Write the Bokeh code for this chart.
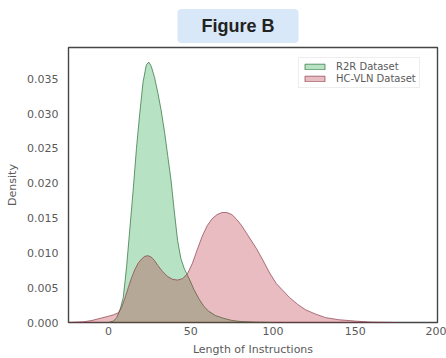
from bokeh.plotting import figure
from bokeh.models import Range1d, Legend, LegendItem, FixedTicker, NumeralTickFormatter
from bokeh.embed import file_html
from bokeh.resources import INLINE

# R2R dataset density
r2r_x = [-5, 0, 3, 5, 7, 9, 11, 13, 15, 17, 19, 21, 23, 24.5, 26, 28, 30, 32, 34, 36, 38,
         40, 42, 44, 46, 48, 50, 52, 55, 58, 61, 65, 70, 75, 80, 90, 100]
r2r_y = [0, 0, 0.0002, 0.0007, 0.0018, 0.0036, 0.008, 0.0135, 0.019, 0.025, 0.030, 0.0345,
         0.0370, 0.0374, 0.0368, 0.0352, 0.0330, 0.0305, 0.0275, 0.0240, 0.0205,
         0.0160, 0.0118, 0.0092, 0.0078, 0.0068, 0.0058, 0.0047, 0.0034, 0.0023, 0.0016,
         0.0010, 0.0006, 0.0003, 0.00015, 0.00005, 0]

# HC-VLN dataset density
hc_x = [-25, -15, -10, -5, 0, 3, 6, 8, 10, 12, 14, 16, 18, 20, 22, 24, 26, 28, 30, 33, 36,
        39, 42, 45, 48, 51, 54, 57, 60, 63, 66, 69, 72, 75, 78, 81, 84, 87, 90, 94, 98,
        102, 106, 110, 115, 120, 126, 132, 140, 150, 160, 175]
hc_y = [0, 0.0001, 0.0003, 0.0006, 0.0009, 0.0011, 0.0014, 0.0022, 0.0035, 0.0050, 0.0064,
        0.0076, 0.0085, 0.0091, 0.0095, 0.0096, 0.0094, 0.0089, 0.0082, 0.0073, 0.0066,
        0.0062, 0.0061, 0.0063, 0.0070, 0.0085, 0.0105, 0.0124, 0.0139, 0.0149, 0.0155,
        0.0158, 0.0158, 0.0155, 0.0148, 0.0139, 0.0128, 0.0117, 0.0106, 0.0089, 0.0071,
        0.0056, 0.0046, 0.0036, 0.0026, 0.0018, 0.0012, 0.0007, 0.0004, 0.0002, 0.00005, 0]

x_ticks = [0, 50, 100, 150, 200]
y_ticks = [0, 0.005, 0.010, 0.015, 0.020, 0.025, 0.030, 0.035]
series_names = ["R2R Dataset", "HC-VLN Dataset"]
title_text = "Figure B"
x_label = "Length of Instructions"
y_label = "Density"

GREEN = (20, 160, 60)
PINK = (180, 34, 48)
FONT = "DejaVu Sans"
GRAY = "#5a5a5a"

p = figure(width=446, height=358, output_backend="svg", toolbar_location=None,
           title=title_text,
           x_range=Range1d(-24.3, 200), y_range=Range1d(0, 0.0395),
           min_border_left=68, min_border_right=9, min_border_top=47, min_border_bottom=36)
p.grid.visible = False
p.outline_line_color = "#454545"
p.outline_line_width = 1.4
p.background_fill_color = "white"
p.border_fill_color = "white"

p.title.align = "left"
p.title.offset = 109
p.title.vertical_align = "top"
p.title.text_font = "Liberation Sans"
p.title.text_font_style = "bold"
p.title.text_font_size = "18px"
p.title.text_color = "#222222"
p.title.background_fill_color = "#d9e8f8"
p.title.border_line_color = None
p.title.padding = (24, 7)
p.title.border_radius = 4
p.title.standoff = 5

ga = p.patch(x=r2r_x, y=r2r_y, fill_color=GREEN, fill_alpha=0.3,
             line_color=(40, 110, 55), line_alpha=0.7, line_width=1)
pa = p.patch(x=hc_x, y=hc_y, fill_color=PINK, fill_alpha=0.3,
             line_color=(130, 50, 65), line_alpha=0.65, line_width=1)

for ax in (p.xaxis[0], p.yaxis[0]):
    ax.axis_line_color = None
    ax.major_tick_line_color = None
    ax.minor_tick_line_color = None
    ax.major_tick_out = 0
    ax.major_tick_in = 0
    ax.minor_tick_out = 0
    ax.minor_tick_in = 0
    ax.major_label_text_font = FONT
    ax.major_label_text_font_size = "11px"
    ax.major_label_text_color = GRAY
    ax.axis_label_text_font = FONT
    ax.axis_label_text_font_style = "normal"
    ax.axis_label_text_color = GRAY
    ax.axis_label_text_font_size = "11px"

p.xaxis.ticker = FixedTicker(ticks=x_ticks)
p.yaxis.ticker = FixedTicker(ticks=y_ticks)
p.yaxis.formatter = NumeralTickFormatter(format="0.000")
p.xaxis.axis_label = x_label
p.yaxis.axis_label = y_label
p.xaxis.major_label_standoff = 4
p.yaxis.major_label_standoff = 10
p.xaxis.axis_label_standoff = 5
p.yaxis.axis_label_standoff = 5

legend = Legend(items=[LegendItem(label=series_names[0], renderers=[ga]),
                       LegendItem(label=series_names[1], renderers=[pa])],
                location=(230, 234))
legend.label_text_font = FONT
legend.label_text_font_size = "10px"
legend.label_text_color = GRAY
legend.glyph_width = 25
legend.glyph_height = 7
legend.label_height = 9
legend.spacing = 1
legend.padding = 3
legend.label_standoff = 9
legend.border_line_color = "#dcdcdc"
legend.border_line_width = 1
legend.background_fill_alpha = 0.9
p.add_layout(legend)

open("out.html", "w").write(file_html(p, INLINE))
